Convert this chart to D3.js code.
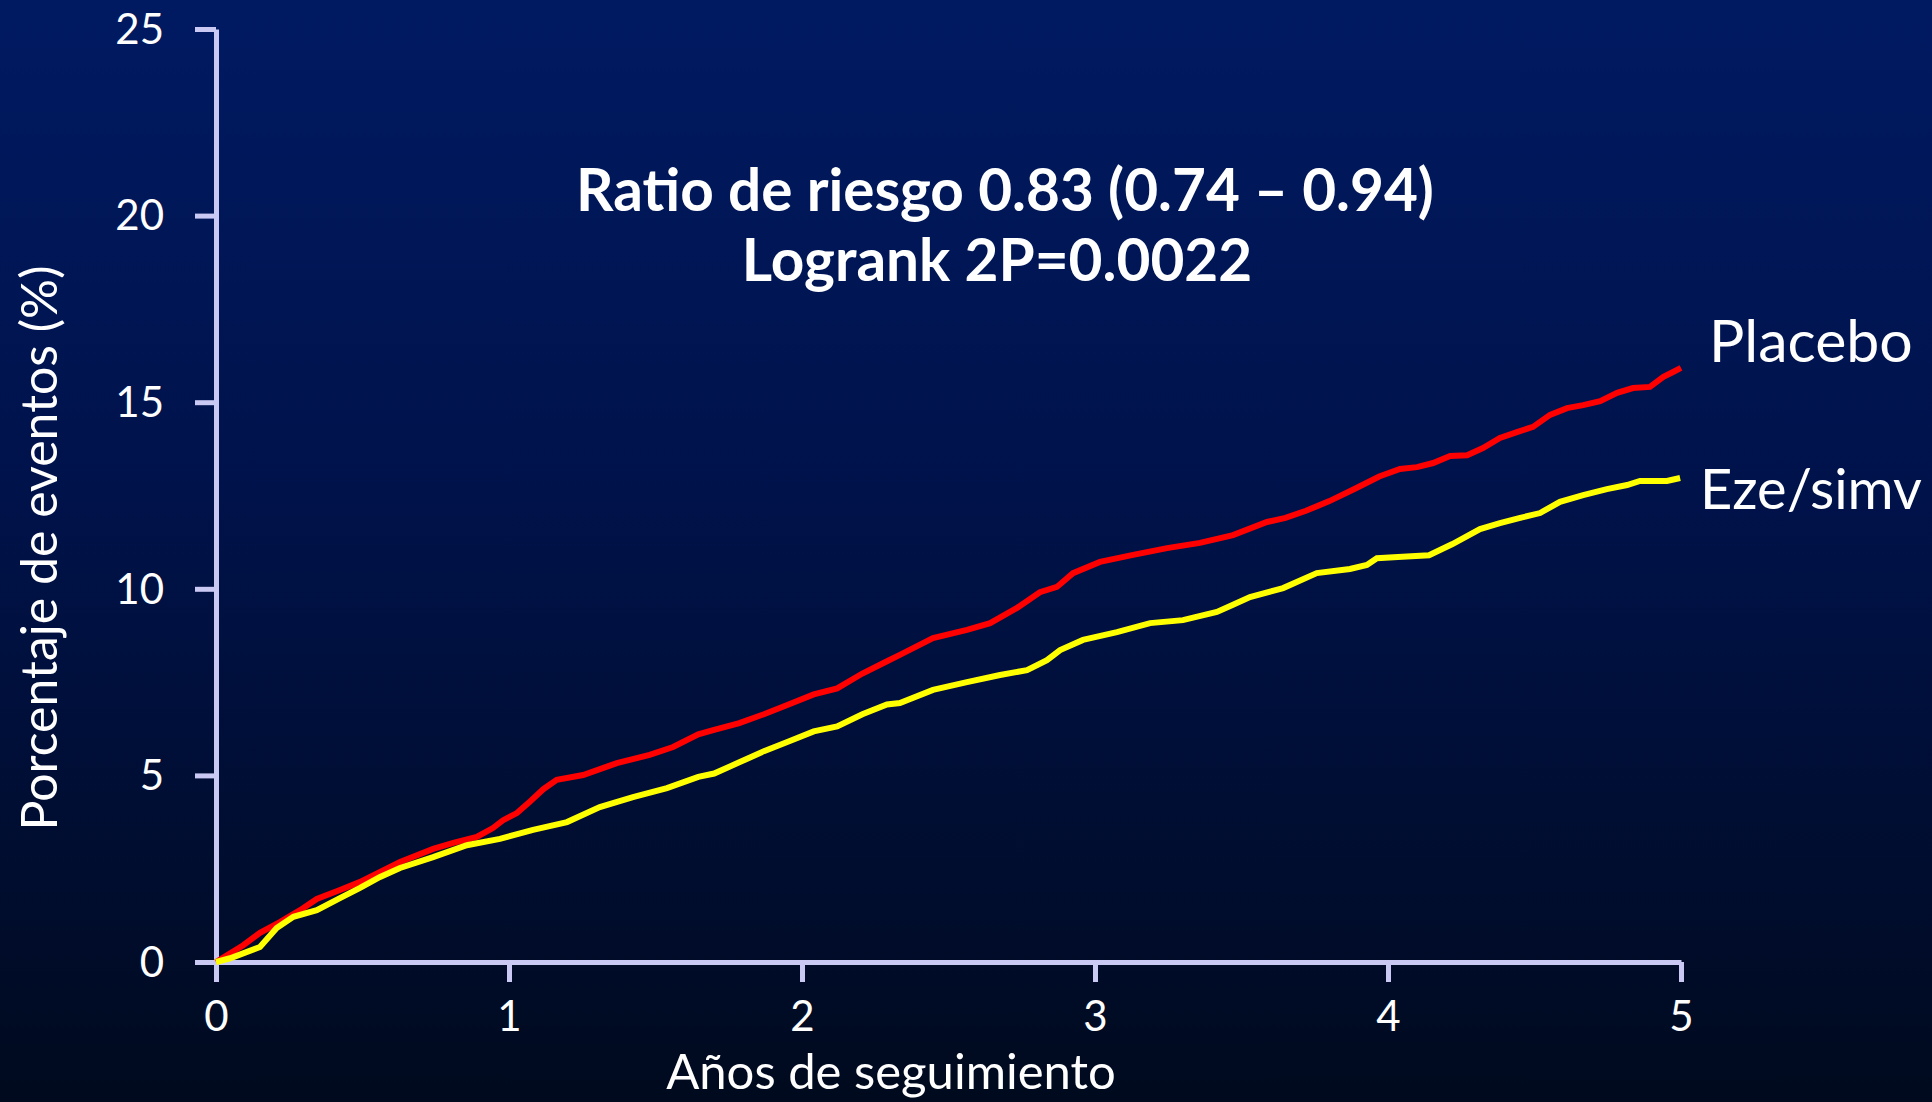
<!DOCTYPE html>
<html>
<head>
<meta charset="utf-8">
<script src="https://cdn.jsdelivr.net/npm/d3@7"></script>
<style>
  html, body { margin: 0; padding: 0; background: #000a1e; }
  svg { display: block; }
</style>
</head>
<body>
<svg id="chart" width="1932" height="1102"></svg>
<script>
// ---- Data ----
const xTicks = [0, 1, 2, 3, 4, 5];
const yTicks = [0, 5, 10, 15, 20, 25];

const placeboTimes = [
  0, 0.093, 0.15, 0.218, 0.287, 0.344, 0.423, 0.49, 0.56, 0.628,
  0.741, 0.81, 0.89, 0.945, 0.98, 1.027, 1.07, 1.117, 1.163, 1.253,
  1.368, 1.48, 1.56, 1.646, 1.70, 1.786, 1.87, 1.954, 2.04, 2.12,
  2.206, 2.29, 2.334, 2.447, 2.563, 2.642, 2.734, 2.812, 2.87, 2.925,
  3.017, 3.13, 3.246, 3.358, 3.471, 3.587, 3.65, 3.72, 3.80, 3.887,
  3.97, 4.041, 4.099, 4.154, 4.212, 4.27, 4.324, 4.382, 4.44, 4.495,
  4.553, 4.611, 4.666, 4.724, 4.782, 4.836, 4.894, 4.94, 4.973, 5.0
];
const placeboValues = [
  0, 0.45, 0.78, 1.07, 1.39, 1.69, 1.93, 2.14, 2.41, 2.68,
  3.03, 3.19, 3.35, 3.59, 3.80, 3.99, 4.29, 4.63, 4.88, 5.01,
  5.33, 5.55, 5.76, 6.10, 6.22, 6.40, 6.64, 6.90, 7.17, 7.33,
  7.73, 8.06, 8.23, 8.68, 8.90, 9.08, 9.49, 9.91, 10.05, 10.42,
  10.72, 10.91, 11.09, 11.23, 11.44, 11.79, 11.90, 12.09, 12.35, 12.68,
  13.01, 13.21, 13.26, 13.37, 13.56, 13.58, 13.77, 14.04, 14.20, 14.34,
  14.66, 14.84, 14.92, 15.03, 15.25, 15.38, 15.41, 15.68, 15.81, 15.92
];

const ezeTimes = [
  0, 0.048, 0.15, 0.207, 0.264, 0.344, 0.423, 0.49, 0.56, 0.628,
  0.741, 0.856, 0.969, 1.082, 1.198, 1.31, 1.423, 1.539, 1.646, 1.70,
  1.786, 1.87, 1.954, 2.04, 2.12, 2.206, 2.29, 2.334, 2.447, 2.563,
  2.676, 2.768, 2.836, 2.881, 2.959, 3.075, 3.188, 3.30, 3.416, 3.471,
  3.529, 3.642, 3.757, 3.87, 3.928, 3.962, 4.034, 4.14, 4.22, 4.314,
  4.382, 4.451, 4.519, 4.587, 4.666, 4.747, 4.816, 4.86, 4.952, 4.997
];
const ezeValues = [
  0, 0.1, 0.40, 0.91, 1.21, 1.39, 1.71, 1.98, 2.28, 2.52,
  2.81, 3.13, 3.30, 3.54, 3.75, 4.15, 4.42, 4.66, 4.96, 5.05,
  5.35, 5.65, 5.91, 6.18, 6.31, 6.64, 6.90, 6.94, 7.29, 7.50,
  7.69, 7.82, 8.09, 8.36, 8.63, 8.84, 9.08, 9.16, 9.38, 9.57,
  9.78, 10.02, 10.42, 10.53, 10.64, 10.82, 10.85, 10.90, 11.20, 11.60,
  11.76, 11.90, 12.03, 12.33, 12.51, 12.67, 12.78, 12.89, 12.89, 12.97
];

const seriesNames = ["Placebo", "Eze/simv"];
const seriesColors = ["#ff0000", "#ffff00"];
const titleLines = ["Ratio de riesgo 0.83 (0.74 – 0.94)", "Logrank 2P=0.0022"];
const xLabel = "Años de seguimiento";
const yLabel = "Porcentaje de eventos (%)";

// ---- Drawing ----
const svg = d3.select("#chart");
const W = 1932, H = 1102;
const FONT = "Lato, 'Open Sans', sans-serif";
const axisColor = "#c9c9f4";

const defs = svg.append("defs");
const grad = defs.append("linearGradient").attr("id", "bg")
  .attr("x1", 0).attr("y1", 0).attr("x2", 0).attr("y2", 1);
grad.append("stop").attr("offset", "0%").attr("stop-color", "#001a62");
grad.append("stop").attr("offset", "45%").attr("stop-color", "#00124a");
grad.append("stop").attr("offset", "100%").attr("stop-color", "#000a1e");
svg.append("rect").attr("width", W).attr("height", H).attr("fill", "url(#bg)");

const x = d3.scaleLinear().domain([0, 5]).range([216, 1681]);
const y = d3.scaleLinear().domain([0, 25]).range([962, 29]);

// Axes
const xAxis = svg.append("g").attr("transform", `translate(0,${y(0)})`)
  .call(d3.axisBottom(x).tickValues(xTicks).tickSize(20).tickSizeOuter(0).tickPadding(19).tickFormat(d3.format("d")));
const yAxis = svg.append("g").attr("transform", `translate(${x(0)},0)`)
  .call(d3.axisLeft(y).tickValues(yTicks).tickSize(21).tickSizeOuter(0).tickPadding(31).tickFormat(d3.format("d")));

[xAxis, yAxis].forEach(g => {
  g.select(".domain").attr("stroke", axisColor).attr("stroke-width", 5);
  g.selectAll(".tick line").attr("stroke", axisColor).attr("stroke-width", 5);
  g.selectAll(".tick text").attr("fill", "#ffffff")
    .style("font-family", FONT).style("font-size", "42px");
});
xAxis.selectAll(".tick text").attr("dy", "0.72em");
yAxis.selectAll(".tick text").attr("dy", "0.34em");

// Lines
const line = d3.line().x(d => x(d[0])).y(d => y(d[1])).curve(d3.curveLinear);
const series = [
  placeboTimes.map((t, i) => [t, placeboValues[i]]),
  ezeTimes.map((t, i) => [t, ezeValues[i]])
];
series.forEach((s, i) => {
  svg.append("path").datum(s)
    .attr("fill", "none")
    .attr("stroke", seriesColors[i])
    .attr("stroke-width", 6)
    .attr("stroke-linejoin", "miter")
    .attr("d", line);
});

// Series labels
const labelPos = [[1709, 362], [1700, 509]];
const labelSize = [59, 56];
seriesNames.forEach((n, i) => {
  svg.append("text").attr("x", labelPos[i][0]).attr("y", labelPos[i][1])
    .attr("fill", "#ffffff").style("font-family", FONT).style("font-size", labelSize[i] + "px")
    .text(n);
});

// Title
const titleY = [211, 281];
const titleX = [1005, 997];
titleLines.forEach((t, i) => {
  svg.append("text").attr("x", titleX[i]).attr("y", titleY[i])
    .attr("text-anchor", "middle").attr("fill", "#ffffff")
    .style("font-family", FONT).style("font-weight", "bold").style("font-size", "58.5px")
    .text(t);
});

// Axis titles
svg.append("text").attr("x", 891).attr("y", 1089).attr("text-anchor", "middle")
  .attr("fill", "#ffffff").style("font-family", FONT).style("font-size", "49px")
  .text(xLabel);
svg.append("text").attr("transform", "translate(57,548) rotate(-90)")
  .attr("text-anchor", "middle")
  .attr("fill", "#ffffff").style("font-family", FONT).style("font-size", "50px")
  .text(yLabel);
</script>
</body>
</html>
